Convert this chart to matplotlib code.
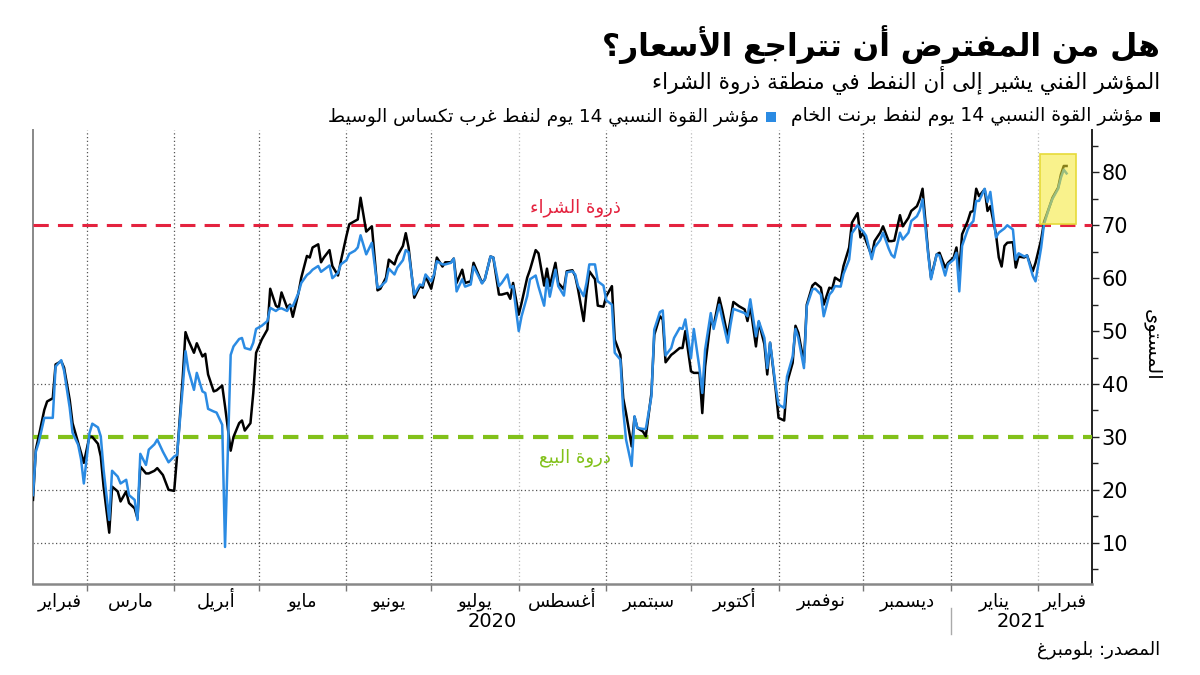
import re
import pandas as pd
import matplotlib
matplotlib.use('Agg')
import matplotlib.pyplot as plt
import matplotlib.dates as mdates
from matplotlib.patches import Rectangle
from matplotlib.lines import Line2D

plt.rcParams['font.family'] = ['DejaVu Sans']

# --- minimal Arabic shaping: matplotlib has no complex text layout ---
_letters = [chr(c) for c in range(0x0621, 0x063B)] + [chr(c) for c in range(0x0641, 0x064B)]
_nforms = '12222424244444222244444444' + '4444444224'
FORMS = {}
_code = 0xFE80
for ch, n in zip(_letters, _nforms):
    FORMS[ch] = (_code, int(n))
    _code += int(n)
LAM_ALEF = {'\u0622': 0xFEF5, '\u0623': 0xFEF7, '\u0625': 0xFEF9, '\u0627': 0xFEFB}


def ar(text):
    res = []
    i = 0
    while i < len(text):
        c = text[i]
        if c not in FORMS:
            res.append(c)
            i += 1
            continue
        prev = text[i - 1] if i > 0 else ''
        nxt = text[i + 1] if i + 1 < len(text) else ''
        link_prev = prev in FORMS and FORMS[prev][1] == 4
        if c == '\u0644' and nxt in LAM_ALEF:
            res.append(chr(LAM_ALEF[nxt] + (1 if link_prev else 0)))
            i += 2
            continue
        base, k = FORMS[c]
        link_next = k == 4 and nxt in FORMS and FORMS[nxt][1] > 1
        if k == 1:
            form = base
        elif link_prev and link_next:
            form = base + 3
        elif link_prev:
            form = base + 1
        elif link_next:
            form = base + 2
        else:
            form = base
        res.append(chr(form))
        i += 1
    parts = re.findall(r'[0-9]+|[^0-9]+', ''.join(res))
    return ''.join(p if p[0].isdigit() else p[::-1] for p in reversed(parts))


# --- data ---
dates = [
    '2020-02-11', '2020-02-12', '2020-02-13', '2020-02-15', '2020-02-16', '2020-02-18', '2020-02-19',
    '2020-02-21', '2020-02-22', '2020-02-24', '2020-02-25', '2020-02-27', '2020-02-28', '2020-02-29',
    '2020-03-02', '2020-03-03', '2020-03-05', '2020-03-06', '2020-03-07', '2020-03-09', '2020-03-10',
    '2020-03-12', '2020-03-13', '2020-03-15', '2020-03-16', '2020-03-18', '2020-03-19', '2020-03-20',
    '2020-03-22', '2020-03-23', '2020-03-25', '2020-03-26', '2020-03-28', '2020-03-30',
    '2020-04-01', '2020-04-02', '2020-04-04', '2020-04-05', '2020-04-06', '2020-04-08', '2020-04-09',
    '2020-04-11', '2020-04-12', '2020-04-13', '2020-04-15', '2020-04-16', '2020-04-18', '2020-04-19',
    '2020-04-21', '2020-04-22', '2020-04-24', '2020-04-25', '2020-04-26', '2020-04-28', '2020-04-29',
    '2020-04-30',
    '2020-05-02', '2020-05-04', '2020-05-05', '2020-05-07', '2020-05-08', '2020-05-09', '2020-05-11',
    '2020-05-12', '2020-05-13', '2020-05-15', '2020-05-16', '2020-05-18', '2020-05-19', '2020-05-20',
    '2020-05-22', '2020-05-23', '2020-05-24', '2020-05-26', '2020-05-27', '2020-05-29', '2020-05-30',
    '2020-06-01', '2020-06-02', '2020-06-04', '2020-06-05', '2020-06-06', '2020-06-08', '2020-06-09',
    '2020-06-10', '2020-06-12', '2020-06-13', '2020-06-15', '2020-06-16', '2020-06-18', '2020-06-19',
    '2020-06-21', '2020-06-22', '2020-06-23', '2020-06-25', '2020-06-27', '2020-06-28', '2020-06-29',
    '2020-07-01', '2020-07-02', '2020-07-03', '2020-07-05', '2020-07-06', '2020-07-08', '2020-07-09',
    '2020-07-10', '2020-07-12', '2020-07-13', '2020-07-15', '2020-07-16', '2020-07-18', '2020-07-19',
    '2020-07-20', '2020-07-22', '2020-07-23', '2020-07-25', '2020-07-26', '2020-07-28', '2020-07-29',
    '2020-07-30',
    '2020-08-01', '2020-08-02', '2020-08-04', '2020-08-05', '2020-08-07', '2020-08-08', '2020-08-10',
    '2020-08-11', '2020-08-12', '2020-08-14', '2020-08-15', '2020-08-17', '2020-08-18', '2020-08-20',
    '2020-08-21', '2020-08-22', '2020-08-24', '2020-08-25', '2020-08-26', '2020-08-28', '2020-08-29',
    '2020-08-31',
    '2020-09-01', '2020-09-03', '2020-09-04', '2020-09-06', '2020-09-07', '2020-09-08', '2020-09-10',
    '2020-09-11', '2020-09-12', '2020-09-14', '2020-09-15', '2020-09-17', '2020-09-18', '2020-09-20',
    '2020-09-21', '2020-09-22', '2020-09-24', '2020-09-25', '2020-09-27', '2020-09-28', '2020-09-29',
    '2020-10-01', '2020-10-02', '2020-10-04', '2020-10-05', '2020-10-06', '2020-10-08', '2020-10-09',
    '2020-10-11', '2020-10-12', '2020-10-14', '2020-10-15', '2020-10-16', '2020-10-18', '2020-10-20',
    '2020-10-21', '2020-10-22', '2020-10-24', '2020-10-25', '2020-10-27', '2020-10-28', '2020-10-29',
    '2020-10-31',
    '2020-11-01', '2020-11-03', '2020-11-04', '2020-11-06', '2020-11-07', '2020-11-08', '2020-11-10',
    '2020-11-11', '2020-11-13', '2020-11-14', '2020-11-16', '2020-11-17', '2020-11-19', '2020-11-20',
    '2020-11-21', '2020-11-23', '2020-11-24', '2020-11-26', '2020-11-27', '2020-11-29', '2020-11-30',
    '2020-12-01', '2020-12-02', '2020-12-04', '2020-12-05', '2020-12-07', '2020-12-08', '2020-12-10',
    '2020-12-11', '2020-12-12', '2020-12-14', '2020-12-15', '2020-12-17', '2020-12-18', '2020-12-20',
    '2020-12-21', '2020-12-22', '2020-12-24', '2020-12-25', '2020-12-27', '2020-12-28', '2020-12-30',
    '2020-12-31',
    '2021-01-02', '2021-01-03', '2021-01-04', '2021-01-05', '2021-01-07', '2021-01-08', '2021-01-09',
    '2021-01-10', '2021-01-11', '2021-01-13', '2021-01-14', '2021-01-15', '2021-01-17', '2021-01-18',
    '2021-01-19', '2021-01-20', '2021-01-21', '2021-01-23', '2021-01-24', '2021-01-25', '2021-01-27',
    '2021-01-28', '2021-01-30', '2021-01-31',
    '2021-02-02', '2021-02-03', '2021-02-05', '2021-02-06', '2021-02-08', '2021-02-09', '2021-02-10',
    '2021-02-11',
]

brent_rsi = [
    18.1, 27.6, 30.0, 35.1, 36.7, 37.3, 43.7, 44.3, 43.1, 37.0, 32.6, 28.9, 27.0, 25.1,
    30.1, 30.0, 28.7, 26.3, 20.6, 11.9, 20.6, 19.7, 17.8, 19.7, 17.5, 16.5, 14.6, 24.4, 23.1, 23.1,
    23.6, 24.1, 22.8, 20.0,
    19.8, 26.3, 41.0, 49.8, 48.3, 45.9, 47.7, 45.2, 45.7, 41.8, 38.6, 38.8, 39.7, 35.8, 27.4, 30.0,
    32.6, 33.1, 31.2, 32.6, 38.3, 45.9,
    48.4, 50.3, 58.0, 54.8, 54.4, 57.3, 54.4, 55.0, 52.7, 57.2, 60.1, 64.2, 63.9, 65.8, 66.4, 63.0,
    63.9, 65.3, 62.3, 60.5, 63.2,
    68.0, 70.2, 70.8, 71.1, 75.2, 68.8, 69.3, 69.8, 57.7, 58.0, 60.1, 63.5, 62.6, 64.2, 66.1, 68.5,
    65.8, 56.3, 58.5, 58.2, 60.4,
    58.0, 60.4, 63.9, 62.2, 63.0, 63.0, 63.7, 59.1, 61.6, 59.1, 59.4, 62.9, 60.4, 59.1, 59.8, 64.1,
    63.9, 56.9, 56.9, 57.2, 56.1, 59.1,
    53.1, 55.3, 60.1, 61.6, 65.3, 64.7, 58.6, 61.8, 58.5, 62.9, 59.1, 57.9, 61.3, 61.5, 60.4, 57.9,
    51.9, 57.2, 61.3, 59.8, 54.8, 54.6,
    56.6, 58.5, 48.4, 45.5, 37.3, 34.5, 28.2, 33.8, 31.7, 31.0, 30.1, 38.3, 49.3, 52.8, 52.2, 44.1,
    45.5, 45.9, 46.8, 46.8, 50.0,
    42.4, 42.1, 42.1, 34.5, 43.3, 52.2, 50.9, 56.3, 54.1, 49.0, 52.2, 55.5, 54.7, 54.1, 51.9, 54.7,
    47.1, 51.7, 47.5, 41.8, 47.8, 38.9,
    33.6, 33.1, 40.2, 44.0, 51.0, 49.7, 44.0, 55.0, 58.6, 59.1, 58.2, 55.0, 58.2, 58.0, 60.1, 59.4,
    62.3, 65.8, 70.5, 72.3, 67.7,
    68.6, 67.0, 64.2, 67.0, 68.6, 69.8, 67.0, 67.0, 67.1, 71.9, 69.8, 71.4, 72.7, 73.6, 74.9, 76.9,
    64.8, 60.1, 64.5, 64.8, 62.0, 62.9,
    63.9, 65.8, 61.3, 68.3, 70.8, 72.5, 72.7, 76.9, 75.5, 76.8, 72.7, 73.6, 68.3, 63.9, 62.2, 66.1,
    66.7, 66.8, 62.0, 64.1, 63.9, 64.3, 61.3, 62.9,
    67.3, 70.6, 73.6, 75.2, 77.1, 79.6, 81.2, 81.2,
]

wti_rsi = [
    19.0, 27.2, 28.9, 33.6, 33.6, 33.6, 43.3, 44.5, 42.5, 35.5, 30.8, 28.5, 25.8, 21.2,
    30.7, 32.5, 31.8, 30.1, 23.8, 14.3, 23.6, 22.5, 21.2, 21.9, 19.0, 18.1, 14.3, 26.8, 24.7, 27.6,
    28.6, 29.5, 27.2, 25.2,
    26.3, 26.6, 39.2, 46.2, 42.7, 38.9, 42.1, 38.6, 38.3, 35.3, 34.8, 34.6, 32.3, 9.2, 45.5, 47.1,
    48.5, 48.7, 46.8, 46.5, 47.8, 50.4,
    51.0, 51.9, 54.4, 53.8, 54.2, 54.3, 53.8, 54.8, 54.7, 57.2, 59.1, 60.6, 61.0, 61.6, 62.3, 61.2,
    61.6, 62.4, 60.0, 61.0, 62.6,
    63.4, 64.6, 65.2, 65.8, 68.1, 64.5, 65.6, 66.7, 58.2, 58.4, 59.4, 61.8, 60.7, 62.0, 63.4, 65.3,
    64.9, 56.9, 58.8, 58.6, 60.7,
    59.4, 60.7, 63.2, 62.6, 62.6, 62.9, 63.7, 57.5, 59.8, 58.4, 58.8, 62.2, 60.1, 59.0, 59.8, 64.1,
    63.9, 58.5, 59.1, 60.7, 58.2, 58.5,
    50.0, 52.8, 56.6, 59.8, 60.5, 58.4, 54.8, 59.8, 56.5, 61.6, 58.5, 56.7, 61.1, 61.3, 60.7, 58.5,
    56.6, 59.1, 62.6, 62.6, 59.4, 58.6,
    55.8, 55.0, 45.9, 44.6, 35.0, 29.5, 24.5, 33.9, 31.7, 31.5, 31.5, 37.7, 50.3, 53.6, 53.9, 45.4,
    46.8, 48.7, 50.6, 50.4, 52.2,
    44.9, 50.4, 43.0, 38.3, 46.5, 53.4, 50.4, 55.0, 52.5, 47.8, 51.2, 54.2, 53.8, 53.4, 52.8, 56.0,
    49.0, 51.9, 48.7, 43.0, 47.8, 39.5,
    36.1, 35.5, 41.4, 45.2, 50.4, 48.7, 43.0, 54.7, 57.9, 58.0, 56.9, 52.8, 56.9, 57.5, 58.5, 58.4,
    60.8, 63.5, 68.5, 70.0, 69.3,
    68.8, 68.0, 63.6, 65.8, 67.2, 68.6, 65.6, 64.4, 63.9, 68.6, 67.3, 68.6, 70.8, 71.7, 72.8, 74.9,
    64.5, 59.8, 64.5, 64.3, 60.5, 62.6,
    63.5, 64.8, 57.5, 66.1, 69.2, 70.2, 70.8, 74.6, 74.6, 76.9, 74.4, 76.3, 67.7, 68.6, 69.0, 69.4,
    70.0, 69.2, 63.5, 64.7, 64.1, 64.3, 60.5, 59.4,
    65.8, 70.2, 73.6, 75.0, 76.9, 79.0, 80.5, 79.8,
]

months = ['فبراير', 'مارس', 'أبريل', 'مايو', 'يونيو', 'يوليو', 'أغسطس',
          'سبتمبر', 'أكتوبر', 'نوفمبر', 'ديسمبر', 'يناير', 'فبراير']
years = ['2020', '2021']
overbought, oversold = 70, 30

title = 'هل من المفترض أن تتراجع الأسعار؟'
subtitle = 'المؤشر الفني يشير إلى أن النفط في منطقة ذروة الشراء'
brent_label = 'مؤشر القوة النسبي 14 يوم لنفط برنت الخام'
wti_label = 'مؤشر القوة النسبي 14 يوم لنفط غرب تكساس الوسيط'
source = 'المصدر: بلومبرغ'

BLUE = '#2b8be3'
RED = '#e4233f'
GREEN = '#82c11a'

x = pd.to_datetime(dates)
x0, x1 = pd.Timestamp('2020-02-11'), pd.Timestamp('2021-02-20')

fig = plt.figure(figsize=(12, 6.75), dpi=100)
ax = fig.add_axes([0.0275, 0.1348, 0.8825, 0.6726])

ax.plot(x, brent_rsi, color='black', lw=1.8, zorder=4)
ax.plot(x, wti_rsi, color=BLUE, lw=1.8, zorder=5)

ax.axhline(overbought, color=RED, lw=2.2, ls=(0, (5, 3)), zorder=3)
ax.axhline(oversold, color=GREEN, lw=3, ls=(0, (3.7, 2.3)), zorder=3)

for v in [10, 20, 40]:
    ax.axhline(v, color='#555555', lw=0.9, ls=(0, (1, 2)), zorder=1)

month_starts = pd.date_range('2020-03-01', '2021-02-01', freq='MS')
for d in month_starts:
    light = d.month in (8, 10, 2)
    ax.axvline(d, color='#bbbbbb' if light else '#555555', lw=0.9, ls=(0, (1, 2)), zorder=1)

ax.set_xlim(x0, x1)
ax.set_ylim(2.2, 88)

ax.set_xticks(mdates.date2num(month_starts))
ax.set_xticklabels([])
ax.tick_params(axis='x', which='major', length=5, width=1, color='#777777', direction='out')

# month names centred in each month, on a common baseline
xt = ax.get_xaxis_transform()
edges = [x0] + list(month_starts) + [x1]
for a, b, m in zip(edges[:-1], edges[1:], months):
    ax.text(a + (b - a) / 2, -0.05, ar(m), transform=xt, ha='center', va='baseline', fontsize=13)

ax.yaxis.tick_right()
ax.set_yticks(range(10, 90, 10))
ax.set_yticks(range(5, 90, 10), minor=True)
ax.tick_params(axis='y', which='major', length=5, width=1, color='#222222', labelsize=15, pad=2)
ax.tick_params(axis='y', which='minor', length=4, width=1, color='#222222')
ax.tick_params(axis='y', which='both', left=False)

ax.spines['top'].set_visible(False)
ax.spines['left'].set_color('#888888')
ax.spines['left'].set_linewidth(1.4)
ax.spines['bottom'].set_color('#888888')
ax.spines['bottom'].set_linewidth(1.8)
ax.spines['right'].set_color('#222222')
ax.spines['right'].set_linewidth(1.4)

# overbought / oversold labels
ax.text(0.512, 73.4, ar('ذروة الشراء'), transform=ax.get_yaxis_transform(),
        color=RED, fontsize=13, ha='center', va='center')
ax.text(0.512, 26.0, ar('ذروة البيع'), transform=ax.get_yaxis_transform(),
        color=GREEN, fontsize=13, ha='center', va='center')

# highlight of the latest readings
hx0 = mdates.date2num(pd.Timestamp('2021-02-01 12:00'))
ax.add_patch(Rectangle((hx0, 70.3), 13, 13.2, facecolor=(0.96, 0.91, 0.18, 0.55),
                       edgecolor='#e6da3a', lw=1.2, zorder=6))

# years under the month labels
jan1 = pd.Timestamp('2021-01-01')
ax.text(x0 + (jan1 - x0) / 2, -0.082, years[0], transform=xt, ha='center', va='center', fontsize=14)
ax.text(jan1 + (x1 - jan1) / 2, -0.082, years[1], transform=xt, ha='center', va='center', fontsize=14)
ax.add_line(Line2D([jan1, jan1], [-0.053, -0.11], transform=xt, color='#aaaaaa', lw=1, clip_on=False))

# title, subtitle, legend, axis label, source
fig.text(1160 / 1200, 1 - 45 / 675, ar(title), ha='right', va='center', fontsize=22.5, weight='bold')
fig.text(1160 / 1200, 1 - 80 / 675, ar(subtitle), ha='right', va='center', fontsize=15.5)

fig.add_artist(Rectangle((1150 / 1200, 1 - 122 / 675), 10 / 1200, 10 / 675,
                         transform=fig.transFigure, facecolor='black', edgecolor='none'))
fig.text(1143 / 1200, 1 - 117 / 675, ar(brent_label), ha='right', va='center', fontsize=13.5)
fig.add_artist(Rectangle((766 / 1200, 1 - 122 / 675), 10 / 1200, 10 / 675,
                         transform=fig.transFigure, facecolor=BLUE, edgecolor='none'))
fig.text(759 / 1200, 1 - 117 / 675, ar(wti_label), ha='right', va='center', fontsize=13.3)

fig.text(1152 / 1200, 1 - 345 / 675, ar('المستوى'), rotation=270, ha='center', va='center', fontsize=14)
fig.text(1160 / 1200, 1 - 650 / 675, ar(source), ha='right', va='center', fontsize=13)

fig.savefig('out.png', dpi=100)
